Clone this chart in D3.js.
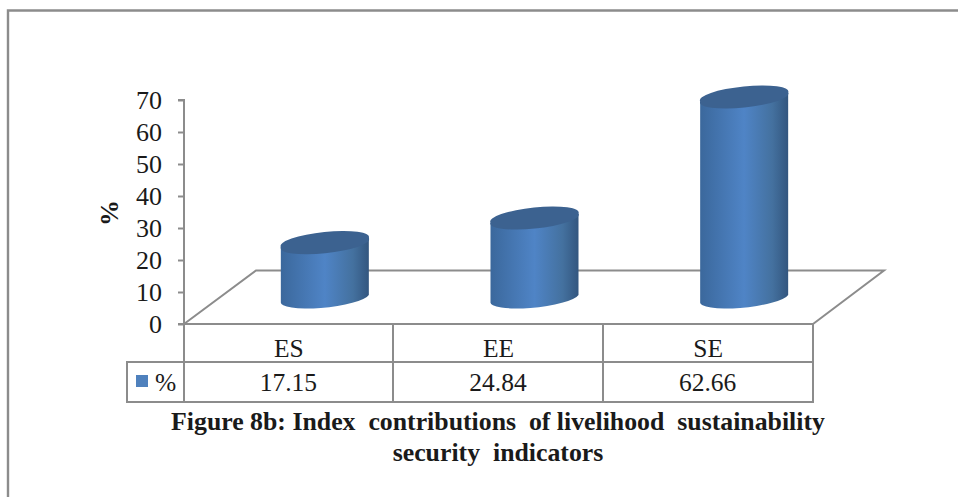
<!DOCTYPE html>
<html><head><meta charset="utf-8">
<script src="https://cdnjs.cloudflare.com/ajax/libs/d3/7.8.5/d3.min.js"></script>
<style>html,body{margin:0;padding:0;background:#fff}svg{display:block}text{font-family:"Liberation Serif",serif;fill:#1a1a1a}</style>
</head><body><div id="chart"></div>
<script>
const categories = ["ES","EE","SE"];
const seriesValues = [17.15,24.84,62.66];
const tableLabels = ["17.15","24.84","62.66"];
const yTicks = [0,10,20,30,40,50,60,70];
const seriesName = "%";
const captionLines = ["Figure 8b: Index  contributions  of livelihood  sustainability","security  indicators"];

const W=958,H=497,grey="#8c8c8c";
const svg=d3.select("#chart").append("svg").attr("width",W).attr("height",H);
const y=d3.scaleLinear().domain([0,70]).range([324,100]);
const x=d3.scaleBand().domain(categories).range([184,813]).paddingInner(0).paddingOuter(0);

const defs=svg.append("defs");
const g=defs.append("linearGradient").attr("id","cyl");
[[0,"#3b689c"],[0.5,"#4f84c6"],[0.82,"#44719f"],[1,"#33567f"]].forEach(s=>g.append("stop").attr("offset",s[0]).attr("stop-color",s[1]));

// outer frame
svg.append("path").attr("d",`M8,497V10.5H${W}`).attr("fill","none").attr("stroke",grey).attr("stroke-width",2.4);

// floor
const dx=72,dy=53.5;
svg.append("path").attr("d",`M184,324L${184+dx},${324-dy}H${813+dx-1}L813,324`).attr("fill","none").attr("stroke",grey).attr("stroke-width",2);

// axis
const ax=svg.append("g").attr("transform","translate(184,0)").call(d3.axisLeft(y).tickValues(yTicks).tickSize(6).tickPadding(16));
ax.selectAll("path,line").attr("stroke",grey).attr("stroke-width",2);
ax.select("path").attr("d",`M-6,100H0V324H-6`);
ax.selectAll("text").style("font-family",'"Liberation Serif",serif').style("font-size","26px").attr("fill","#1a1a1a");

// axis title
svg.append("text").attr("transform","translate(118,213) rotate(-90)").attr("text-anchor","middle").attr("font-size","26px").attr("font-weight","bold").text("%");

// cylinders
const shift=22, halfW=44, slope=9, rx=44.5, ry=9.5, rot=-6;
const centre=c=>x(c)+x.bandwidth()/2+dx/2;
const bars=svg.append("g").selectAll("g").data(categories).join("g");
bars.append("path").attr("fill","url(#cyl)").attr("d",(c,i)=>{
  const l=centre(c)-halfW, r=centre(c)+halfW;
  const b=y(0)-shift, t=y(seriesValues[i])-shift;
  return `M${l},${t}L${l},${b}A${rx},${ry} ${rot} 0 0 ${r},${b-7}L${r},${t-slope}A${rx},${ry} ${rot} 0 1 ${l},${t}Z`;
});
bars.append("path").attr("fill","#3c6290").attr("d",(c,i)=>{
  const l=centre(c)-halfW, r=centre(c)+halfW, t=y(seriesValues[i])-shift;
  return `M${l},${t}A${rx},${ry} ${rot} 1 1 ${r},${t-slope}A${rx},${ry} ${rot} 1 1 ${l},${t}Z`;
});

// data table
const tx=[127,184,393,603,813], r0=324,r1=362,r2=402;
const tbl=svg.append("g").attr("stroke",grey).attr("stroke-width",2).attr("fill","none");
tbl.append("path").attr("d",`M184,${r0}H813V${r2}H127V${r1}H813M184,${r0}V${r2}`);
tx.slice(2,4).forEach(v=>tbl.append("line").attr("x1",v).attr("x2",v).attr("y1",r0).attr("y2",r2));
const tf=svg.append("g").attr("font-size","25.5px").attr("text-anchor","middle");
categories.forEach(c=>tf.append("text").attr("x",x(c)+x.bandwidth()/2).attr("y",357).text(c));
tableLabels.forEach((t,i)=>tf.append("text").attr("x",x(categories[i])+x.bandwidth()/2-0.5).attr("y",391).text(t));
svg.append("rect").attr("x",136).attr("y",375).attr("width",12).attr("height",12).attr("fill","#4f81bd");
svg.append("text").attr("x",155).attr("y",391).attr("font-size","25.5px").text(seriesName);

// caption
captionLines.forEach((t,i)=>svg.append("text").attr("x",498).attr("y",430+i*31).attr("text-anchor","middle").attr("font-size","25.8px").attr("font-weight","bold").style("white-space","pre").text(t));
</script></body></html>
